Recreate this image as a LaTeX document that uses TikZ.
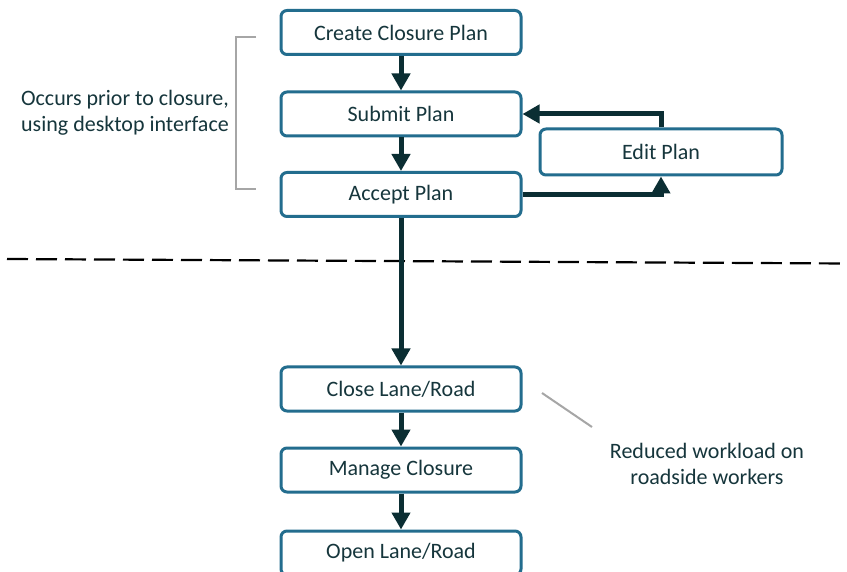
\documentclass[tikz,border=0pt]{standalone}
\usepackage{fontspec}
\setmainfont{Carlito}
\usetikzlibrary{arrows.meta}
\definecolor{boxblue}{HTML}{236D8E}
\definecolor{arrdark}{HTML}{0B2E33}
\definecolor{txt}{HTML}{16363C}
\definecolor{brgray}{HTML}{A6A6A6}
\tikzset{
  stepbox/.style={draw=boxblue, line width=3pt, rounded corners=6pt, fill=white,
    minimum width=240pt, minimum height=44pt, inner sep=0pt, text=txt,
    font=\fontsize{22}{26}\selectfont},
  flowarrow/.style={draw=arrdark, line width=5pt,
    -{Triangle[length=17pt,width=18pt]}},
  note/.style={text=txt, align=center, font=\fontsize{22}{26}\selectfont, inner sep=0pt},
  grayline/.style={draw=brgray, line width=2pt}
}
\begin{document}
\begin{tikzpicture}[x=1pt,y=-1pt]
\useasboundingbox (0,0) rectangle (847,572);
\fill[white] (0,0) rectangle (847,572);

\node[stepbox] (create) at (401,32.5) {Create Closure Plan};
\node[stepbox] (submit) at (401,114) {Submit Plan};
\node[stepbox] (accept) at (401,194.5) {Accept Plan};
\node[stepbox, minimum width=242pt, minimum height=46pt] (edit) at (661,152) {Edit Plan};
\node[stepbox] (close) at (401,389) {Close Lane/Road};
\node[stepbox] (manage) at (401,470) {Manage Closure};
\node[stepbox] (open) at (401,553) {Open Lane/Road};

% dashed separator
\coordinate (dl) at (7,259);
\coordinate (dr) at (847,263.5);
\draw[black, line width=2.2pt, dash pattern=on 21pt off 8pt] (dl) -- (dr);

\draw[flowarrow] (create.south) -- (submit.north);
\draw[flowarrow] (submit.south) -- (accept.north);
\draw[flowarrow] (accept.south) -- (close.north);
\draw[flowarrow] (close.south) -- (manage.north);
\draw[flowarrow] (manage.south) -- (open.north);
\draw[flowarrow, line join=miter] (accept.east) -| (edit.south);
\draw[flowarrow, line join=miter] (edit.north) |- (submit.east);

% bracket
\coordinate (bt) at (256,37);
\coordinate (bb) at (256,189);
\draw[grayline] (bt) -- (236,37) -- (236,189) -- (bb);
\node[note] (occurs) at (125,113) {Occurs prior to closure,\\using desktop interface};

% reduced workload
\coordinate (gl1) at (542,393);
\coordinate (gl2) at (592,427);
\draw[grayline] (gl1) -- (gl2);
\node[note] (reduced) at (707,464) {Reduced workload on\\roadside workers};
\end{tikzpicture}
\end{document}
